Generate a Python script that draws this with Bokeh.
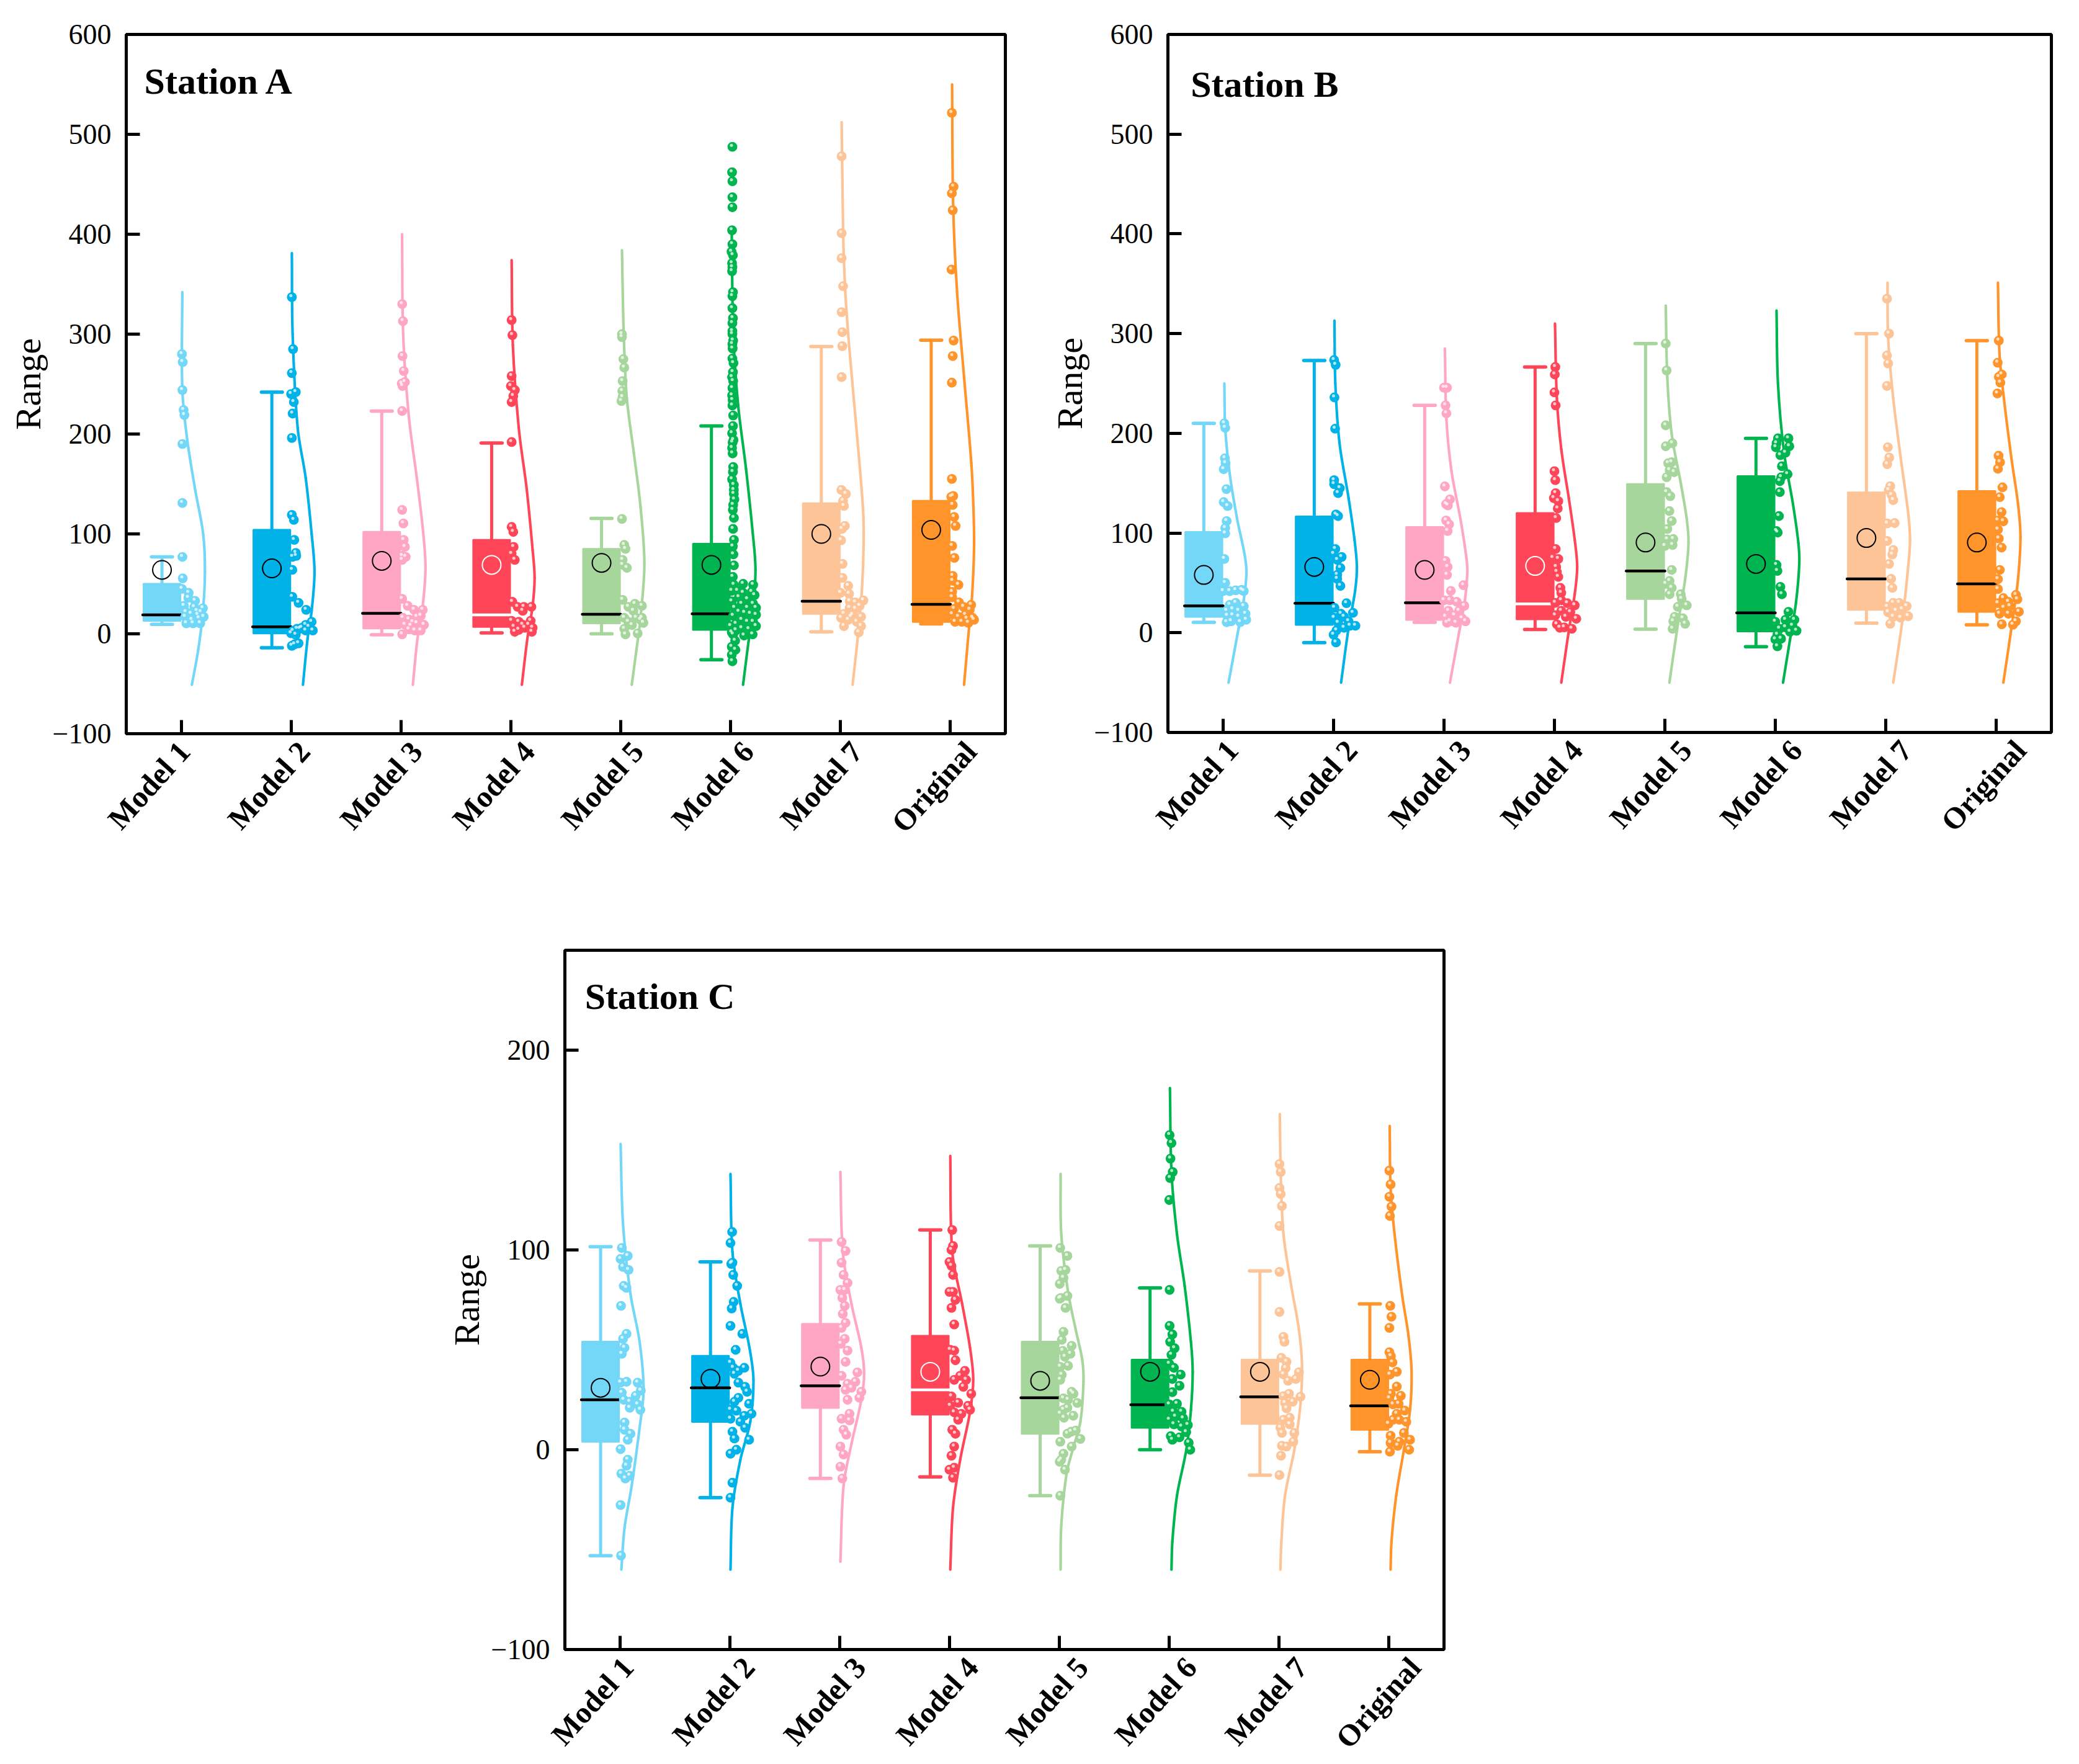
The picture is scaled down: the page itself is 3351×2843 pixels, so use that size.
from math import radians
from bokeh.embed import file_html
from bokeh.resources import INLINE
from bokeh.plotting import figure
from bokeh.layouts import column, row
from bokeh.models import Spacer, FixedTicker, Range1d, LinearAxis
from bokeh.core.properties import value

CATS = ["Model 1", "Model 2", "Model 3", "Model 4", "Model 5", "Model 6", "Model 7", "Original"]
COLORS = ["#73D7F7", "#00B2E8", "#FFA6C4", "#FF4659", "#A6D69C", "#00B54F", "#FDC497", "#FF942B"]
MEDIAN_COLORS = ["black", "black", "black", "white", "black", "black", "black", "black"]

# horizontal placement of the category labels relative to their ticks
A_lab = [.028, .119, .141, .164, .153, .158, .147, .186]
B_lab = [.084, .163, .191, .202, .191, .191, .185, .219]
C_lab = [.073, .175, .186, .209, .209, .198, .203, .237]

# box statistics
A_q3 = [50, 104, 102, 94, 85, 90, 130.6, 133]
A_q1 = [13, 0.5, 5.5, 7, 10.5, 4, 20, 12]
A_med = [19, 7, 20.5, 19, 19.5, 20, 32.6, 29.5]
A_hi = [77, 242, 223, 191, 115.5, 208, 287.6, 294]
A_lo = [9.5, -14, -1, 1, 0, -26, 2, 10]
A_mean = [64, 65.5, 73, 69, 71, 69, 100, 104]

B_q3 = [101, 116.5, 106, 120, 149, 157, 140.7, 142]
B_q1 = [16, 8, 13, 13.6, 34, 1.5, 23, 21]
B_med = [27, 29.6, 30, 29, 62, 20, 54, 49]
B_hi = [210, 273, 228, 266.5, 290, 195, 300, 293]
B_lo = [10.5, -10, 10.5, 3.3, 3.6, -14, 9.7, 8]
B_mean = [58, 66, 63, 67, 90.5, 69, 95, 90.5]

C_q3 = [54, 47, 63, 57, 54, 45, 45, 45]
C_q1 = [4, 14, 21, 17.6, 8, 11, 13, 10]
C_med = [25, 31, 32, 30, 26, 22.5, 26.5, 22]
C_hi = [101.6, 94, 105, 110, 102, 81, 89.5, 73]
C_lo = [-53, -24, -14.4, -13.6, -23, 0, -12.7, -1]
C_mean = [31, 35.5, 41.6, 39, 34.5, 39, 39, 35]

# density outlines: value, width
A1_cy = [342, 245, 195, 145, 100, 62, 23, -16, -51]
A1_cw = [.01, .01, .054, .126, .2, .216, .198, .155, .097]
A2_cy = [381, 300, 206, 156, 100, 62, 23, -5, -51]
A2_cw = [.007, .014, .06, .133, .187, .213, .187, .15, .108]
A3_cy = [400, 300, 217, 156, 106, 67, 28, -5, -51]
A3_cw = [.01, .02, .072, .144, .198, .223, .198, .15, .108]
A4_cy = [374, 289, 206, 145, 84, 56, 28, -5, -51]
A4_cw = [.007, .018, .072, .144, .198, .216, .198, .15, .1]
A5_cy = [384, 300, 235, 181, 127, 70, 16, -15, -51]
A5_cw = [.011, .027, .056, .119, .18, .215, .18, .144, .1]
A6_cy = [400, 300, 229, 165, 102, 64, 19, -6, -51]
A6_cw = [.01, .024, .068, .14, .2, .226, .2, .165, .113]
A7_cy = [512, 400, 343, 286, 200, 124, 89, 45, -2, -51]
A7_cw = [.01, .024, .043, .08, .149, .205, .21, .195, .158, .11]
A8_cy = [550, 428, 343, 257, 171, 124, 86, 38, 7, -51]
A8_cw = [.015, .025, .06, .124, .19, .21, .215, .197, .17, .124]

B1_cy = [250, 205, 159, 114, 78, 60, 33, 5, -50]
B1_cw = [.011, .019, .06, .127, .195, .211, .187, .141, .049]
B2_cy = [313, 250, 190, 135, 93, 66, 42, 5, -50]
B2_cw = [.008, .016, .054, .136, .19, .211, .195, .136, .068]
B3_cy = [285, 214, 162, 114, 75, 60, 33, 0, -50]
B3_cw = [.008, .022, .068, .149, .203, .211, .19, .136, .054]
B4_cy = [310, 235, 184, 135, 93, 66, 39, 2, -50]
B4_cw = [.005, .022, .062, .13, .184, .206, .184, .13, .062]
B5_cy = [328, 256, 199, 150, 114, 90, 54, 8, -50]
B5_cw = [.008, .022, .062, .144, .198, .214, .184, .117, .041]
B6_cy = [323, 250, 181, 129, 90, 69, 30, -7, -50]
B6_cw = [.011, .024, .079, .16, .209, .217, .187, .133, .07]
B7_cy = [351, 295, 235, 175, 120, 93, 66, 11, -50]
B7_cw = [.016, .022, .068, .136, .203, .22, .203, .149, .068]
B8_cy = [351, 280, 235, 175, 129, 96, 54, 15, -50]
B8_cw = [.016, .03, .07, .138, .198, .22, .198, .152, .065]

C1_cy = [153, 113, 78, 54, 30, 11, -18, -39, -60]
C1_cw = [.007, .029, .097, .18, .216, .18, .108, .043, .014]
C2_cy = [138, 99, 73, 51, 35, 14, -5, -29, -60]
C2_cw = [.007, .025, .097, .18, .216, .187, .097, .025, .007]
C3_cy = [139, 99, 73, 51, 38, 25, 3, -18, -56]
C3_cw = [.007, .029, .108, .198, .223, .198, .108, .036, .007]
C4_cy = [147, 99, 73, 51, 35, 19, -5, -29, -60]
C4_cw = [.007, .025, .115, .187, .216, .187, .097, .032, .007]
C5_cy = [138, 108, 79, 60, 45, 34, 14, 0, -12, -38, -60]
C5_cw = [.011, .017, .079, .149, .208, .219, .191, .121, .065, .017, .011]
C6_cy = [181, 139, 108, 82, 54, 39, 20, 0, -23, -46, -60]
C6_cw = [.006, .02, .07, .14, .197, .213, .197, .155, .07, .028, .02]
C7_cy = [168, 139, 108, 82, 60, 42, 23, 0, -23, -46, -60]
C7_cw = [.006, .014, .039, .11, .18, .208, .194, .138, .053, .02, .011]
C8_cy = [162, 131, 108, 77, 57, 39, 20, 0, -23, -46, -60]
C8_cw = [.006, .014, .05, .12, .177, .205, .191, .135, .065, .022, .014]

# individual observations: value, jitter
A1_y = [280, 272, 244, 224, 219, 190, 131, 77, 55.5, 45, 41, 36, 33, 28, 26.7, 25.6, 21.7, 17, 20, 19, 17, 14, 15.5, 10.5, 10.5, 10.5, 22.8, 21.7]
A1_j = [.007, .014, .011, .022, .029, .011, .011, .011, .014, .007, .068, .065, .126, .025, .119, .198, .043, .205, .09, .151, .036, .097, .162, .047, .108, .173, .144, .18]
A2_y = [337, 285, 261, 240, 242, 232, 220.5, 196, 119, 114, 94, 81, 77, 78, 64, 37, 31, 24, 12, 9, 6, 3.3, 5, 3, 3.3, -1, -12, -9.5, -10.5, .5, 5, 7]
A2_j = [.007, .018, .007, 0, .043, .025, .014, .007, .007, .025, .029, .043, .014, .047, .011, .011, .068, .137, .187, .133, .097, .198, .054, .018, .133, .043, .007, .068, .032, 0, .08, .162]
A3_y = [330, 313, 278, 263, 250.5, 252, 248, 223, 124, 110.5, 94, 87, 78, 77, 74, 35, 28, 24, 24, 16, 14.4, 17, 18, 9, 8, 10.5, 9, -.5, 4.4, 3.3, 3.3, 11.7]
A3_j = [.011, .018, .014, .025, .007, .036, .014, .011, .011, .022, .025, .036, .011, .043, .011, .011, .061, .119, .198, .018, .072, .144, .18, .036, .09, .144, .209, .011, .072, .126, .18, .108]
A4_y = [314, 299, 258, 248, 244, 238, 232, 192, 107, 102, 87, 80, 74, 32, 27, 27, 27, 23, 13, 12, 13, 7, 9, 9, 6, 2, 4, 6, 2]
A4_j = [.007, .014, .007, 0, .036, .022, .007, .007, .007, .022, .025, .007, .036, .014, .061, .119, .187, .108, .007, .072, .18, .029, .108, .162, .198, .036, .072, .126, .191]
A5_y = [300, 297, 275, 266.5, 253, 243, 237, 233, 115, 89, 85, 74, 69, 66, 34, 27, 30, 28, 23, 16, 12, 16, 11, 14, 5, 8.7, .4, -.6, 16]
A5_j = [.011, .011, .024, .032, .017, .014, .017, .006, .011, .032, .043, .017, .017, .056, .017, .069, .129, .193, .115, .032, .069, .141, .206, .18, .032, .102, .154, .043, .193]
A6_y = [487.5, 462, 453, 437, 427, 404, 390, 382.5, 379, 371, 367, 363, 342, 338, 326, 316, 311, 303, 300, 293.6, 290, 285.6, 275.6, 271, 262, 257, 253, 246, 238.6, 234, 228.6, 218.6, 208, 200.7, 194, 191.5, 186, 180.6, 167, 162, 154.6, 149, 144, 140, 134.5, 129,
        124, 116, 105, 94, 87.5, 79.5, 68.5, 57, 49,
        50, 49, 43, 41, 42, 43, 36.6, 34.6, 38.7, 32.5, 30, 30, 26, 26, 26, 22, 21, 20, 18, 19, 14, 12, 12, 10, 7.7, 5.6, 7.7, 4.6, 3.5, -1.7, -.6, 1.4,
        -.6, -7, -13, -16, -21, -27.5]
A6_j = [.016, .013, .016, .016, .016, .013, .016, .008, .021, .013, .016, .013, .021, .016, .016, .021, .016, .016, .016, .023, .016, .018, .016, .026, .021, .013, .023, .016, .013, .018, .016, .023, .021, .013, .026, .018, .013, .018, .023, .021, .013, .029, .029, .029, .034, .023,
        .02, .03, .022, .03, .02, .025, .03, .02, .03,
        .114, .205, .062, .114, .192, .01, .075, .153, .218, .01, .101, .205, .036, .153, .231, .075, .127, .179, .023, .231, .101, .153, .205, .049, 0, .101, .231, .166, .049, .122, .2, .01,
        .023, .041, .01, .044, .01, .016]
A7_y = [478, 401, 376, 348, 322, 302, 288, 257, 144, 140, 133, 128, 108, 105, 93.6, 70, 56, 48, 41, 40, 32.5, 33.5, 31.5, 28, 26, 25, 20, 19, 17, 16, 14, 12, 7.7, 7.7, 1.4, 17]
A7_j = [.01, .01, .01, .023, .01, .016, .016, .01, .008, .049, .023, .031, .039, .013, .005, .018, .018, .07, 0, .078, .083, .208, .135, .174, .083, .135, .031, .109, .187, .005, .07, .148, .031, .187, .166, .096]
A8_y = [521.5, 447.6, 441, 424, 364.6, 293.6, 278, 251.4, 155, 138, 137, 129, 117, 108, 88, 76, 58, 53, 49, 42, 36.6, 31.5, 29, 27, 25, 24, 19.5, 17, 19, 16, 12, 12, 11, 14, 15]
A8_j = [.013, .029, .013, .021, .01, .029, .021, .013, .013, .026, .008, .021, .034, .047, .016, .036, .021, .021, .073, .016, .016, .078, .189, .119, .034, .176, .016, .073, .137, .202, .042, .104, .163, .215, .15]

B1_y = [210, 205.5, 175, 170, 164, 144, 131, 127, 112, 105, 99.6, 74, 50, 41.7, 41.7, 42.6, 43, 41.7, 28, 30, 26.6, 22, 23.5, 22, 19, 17, 17.5, 16, 13, 10.6, 11.5, 10.6]
B1_j = [.011, .019, .016, .022, .005, .03, .005, .041, .032, .019, .019, .011, .019, 0, .06, .114, .168, .187, .06, .114, .187, .032, .087, .141, .203, .038, .087, .141, .209, .032, .073, .155]
B2_y = [273.5, 268.6, 236, 204.6, 153, 149, 145, 140, 118.6, 117, 84, 76, 79, 73, 65, 58, 54, 47, 29.6, 25, 20, 19, 15, 16, 11.5, 10, 7, 5, 2.4, -2, -9.7, 7]
B2_j = [.005, .019, .008, .014, .005, .005, .057, .041, .022, .041, .016, .073, 0, .035, .062, .033, .033, .062, .117, .008, .176, .068, .005, .095, .136, .041, .198, .095, .027, 0, .022, .149]
B3_y = [245.7, 245.7, 228, 220, 146.7, 133.7, 129, 127.7, 112.6, 108.7, 102, 72, 66, 58, 47.7, 42, 32.6, 32.6, 31, 27, 22, 22, 16, 17.5, 14.5, 11.5, 11.5, 10, 10]
B3_j = [0, .027, .014, .022, .008, .054, .019, .035, .019, .046, .033, .014, .033, .027, .176, .062, 0, .054, .116, .184, .041, .136, .014, .095, .163, .054, .195, .108, .027]
B4_y = [266.5, 259, 241, 228, 162, 153, 140, 135, 132, 124.7, 115, 84, 74, 75, 66, 61, 56, 45, 40, 32.6, 30, 29.6, 27.5, 22, 20.5, 17.5, 16, 14, 8.5, 5.4, 4, 5]
B4_j = [.008, .003, 0, .011, 0, .008, .011, -.005, .035, .03, .016, .011, .035, -.014, .016, .022, .035, .054, .062, .062, .008, .117, .184, .062, .144, .008, .103, .198, .022, .089, .157, .049]
B5_y = [290, 263, 208, 190, 187, 171, 170, 163, 161, 156, 141, 137, 122, 112, 104, 94, 93.6, 88, 87, 63, 52, 45, 49, 38.6, 38.6, 34, 27.5, 26, 16, 14.5, 11.5, 9, 4]
B5_j = [.008, .016, .008, .068, .008, .062, .03, .043, .084, .016, .016, .049, .041, .062, .022, .076, .022, .07, 0, .062, .043, .062, .008, .043, .144, .152, .198, .117, .089, .163, .076, .184, .07]
B6_y = [195, 195, 190, 187, 186, 180.5, 178, 167, 159, 156, 152, 141, 117, 102, 100.5, 68, 62, 46, 38.6, 21, 13, 11, 13, 4, 7, 2, 5.4, 1, -2, -6, -6.6, -13.6]
B6_j = [.024, .119, .011, .127, .005, .092, .046, .06, .111, .054, .041, .041, .033, .011, .022, .011, .019, .046, .06, .119, .173, 0, .092, .038, .155, .192, .092, .133, .019, .052, 0, .019]
B7_y = [335, 300, 278, 270, 247.5, 186, 175.7, 169, 147, 143, 138, 133, 109.6, 110, 92, 83, 78.5, 69, 54, 45, 30, 30, 26.6, 26, 22, 20.5, 23.5, 16.6, 16, 15, 9]
B7_j = [.011, .03, .011, .022, .011, .019, .032, .014, .041, .027, .054, .068, .014, .081, .014, .068, .06, .03, .049, .06, .068, .122, .19, .014, .095, .022, .149, .203, .068, .136, .041]
B8_y = [293, 270.8, 259, 256.6, 250.8, 240, 177.5, 171, 164.5, 145.8, 136, 121, 112.6, 111.7, 103.5, 94.5, 85.4, 63, 53.7, 43.8, 38, 34.7, 33.5, 31, 29.6, 25, 26.6, 21, 19, 19, 11.5, 8.5, 8]
B8_j = [.024, .014, .051, .024, .038, .011, .022, .035, .016, .057, .033, .049, .016, .065, .016, .024, .049, .033, .016, .016, .179, .065, .192, .111, .016, .07, .124, .206, .03, .111, .179, .051, .152]

C1_y = [101, 97, 95.5, 91.5, 90, 82, 81, 72, 58, 55.5, 51, 48, 33.6, 34, 33.6, 29.6, 28.5, 27, 25, 24, 22.7, 20, 21, 13.6, 10, 8, 5, .3, -5, -8, -12, -14.4, -13, -27.7, -53]
C1_j = [.018, .072, .007, .029, .079, .036, .061, .011, .061, .029, .043, .018, .007, .061, .162, .191, .018, .144, .036, .09, .162, .187, .09, .043, .043, .097, .072, .007, .072, .061, .014, .05, .09, .007, .011]
C2_y = [109, 103.5, 93, 93.6, 87.5, 82, 74, 70.7, 62, 58, 50, 43.5, 41, 41, 39.5, 38, 33.6, 31.5, 29, 26, 24, 23, 20, 19.5, 18, 17, 15.5, 14, 11, 9, 5.6, 5, -2, 0, -16.5, -24]
C2_j = [.022, .007, .014, .025, .032, .068, .036, .018, .007, .115, .054, .007, .032, .133, .079, .043, .079, .14, .158, .079, .043, .176, .007, .061, .198, .133, .007, .097, .14, .025, .043, .176, .007, .061, .025, .007]
C3_y = [104, 99.5, 93.6, 87.5, 83.5, 80, 80, 76, 72, 68, 63.5, 61, 55.5, 53, 49.6, 44, 37, 38.7, 33, 34, 30, 29, 31, 26, 25, 18, 15.5, 14.7, 10, 7.5, 1.6, -2.4, -8.5, -14.4]
C3_j = [.018, .054, .018, .036, .072, .007, .047, .025, .047, .029, .054, .018, .047, .011, .072, .054, .018, .162, .072, .144, .054, .198, .108, .18, .072, .09, .018, .09, .036, .061, .007, .036, .007, .025]
C4_y = [110, 102, 100, 94, 92, 87.5, 79, 79, 75, 71, 62.7, 50, 49.6, 44.8, 39.5, 35, 37, 35, 31.5, 28, 26.7, 23.5, 22, 22, 20, 18.7, 18, 15, 10, 8, 1.6, -3, -10, -9, -14]
C4_j = [.025, .032, .018, 0, .018, .032, 0, .032, .054, .018, .043, .007, .043, .054, .14, .043, .097, .151, .126, .198, .018, .079, .007, .169, .187, .043, .108, .079, .025, .054, .043, .018, 0, .043, .032]
C5_y = [101, 97, 90, 89.5, 86, 83, 76, 77, 75.6, 71, 59, 55, 52, 49.5, 48, 46.5, 42, 41.5, 37.5, 35, 29, 28, 25.7, 25, 23.4, 20, 21, 18, 17, 16, 9.6, 8, 9, 5.4, 4, 1.6, -2, -5, -6, -10, -23]
C5_j = [.008, .073, .056, .017, .037, .003, .014, .073, .003, .056, .037, .022, .112, .031, .101, .051, .079, .008, .022, .008, .112, .129, .037, .079, .163, .037, .073, .008, .127, .042, .149, .073, .107, .191, .008, .112, .037, .017, .003, .051, .008]
C6_y = [157.5, 153.5, 145.7, 139, 136, 125, 80, 62, 57.7, 54, 50.8, 47.5, 43, 41, 37.6, 35.4, 32, 28.8, 23, 22.7, 19, 19, 16.5, 15, 15.7, 12.7, 12.4, 11.6, 8.8, 6.8, 6.2, 5, 3.5, 0]
C6_j = [.003, .02, .011, .031, .008, 0, .003, .003, .028, .008, .048, .02, 0, .042, .104, .028, .093, .028, .07, 0, .037, .112, .056, 0, .126, .042, .169, .112, .154, .014, .093, .028, .177, .191]
C7_y = [143, 139, 131, 128, 122, 112, 89, 69, 56.5, 54, 46, 44, 40.8, 38.8, 37.7, 35.4, 34.5, 28, 26.5, 26.8, 24, 23.4, 20.7, 16, 15, 11, 12.7, 8.4, 8.4, 4, 2, 1.6, -3, -12.7]
C7_j = [.003, .014, .003, .014, .025, .003, .003, .003, .039, .048, .02, .067, .059, .18, .039, .152, .081, .09, .194, .039, .124, .053, .067, .096, .039, .011, .096, .025, .138, .129, .025, .067, .017, .003]
C8_y = [139.7, 132.8, 126.6, 121.7, 117, 72, 66.6, 61, 48.8, 46.8, 43.7, 39, 37.6, 31.6, 28, 27, 25.7, 23, 22.7, 19.6, 18, 15, 15, 14, 13, 8.4, 7, 5, 4, 3.4, 2, 0, -1]
C8_j = [.003, .014, .003, .022, .008, .011, .022, .003, .003, .017, .031, .07, .008, .07, .017, .107, .003, .087, .037, .143, .07, .037, .093, .157, -.006, .135, .014, .191, .093, .014, .079, .183, .008]

G = globals()
FONT = "Liberation Serif"


def draw_outline(p, base, widths, ys, color):
    """Draw the read outline points as one smooth path of cubic Bezier pieces."""
    n = len(ys)
    xs = [base + w for w in widths]
    slope = []
    for i in range(n):
        a, b = max(i - 1, 0), min(i + 1, n - 1)
        slope.append((xs[b] - xs[a]) / (ys[b] - ys[a]))
    x0, y0, x1, y1, cx0, cy0, cx1, cy1 = [], [], [], [], [], [], [], []
    for i in range(n - 1):
        d = (ys[i + 1] - ys[i]) / 3
        x0.append(xs[i]); y0.append(ys[i]); x1.append(xs[i + 1]); y1.append(ys[i + 1])
        cx0.append(xs[i] + slope[i] * d); cy0.append(ys[i] + d)
        cx1.append(xs[i + 1] - slope[i + 1] * d); cy1.append(ys[i + 1] - d)
    p.bezier(x0, y0, x1, y1, cx0, cy0, cx1, cy1, line_color=color, line_width=4.2, line_cap="round")


def panel(key, title, title_x, title_y, ylim, yticks, frame_w, frame_h, left, right, top, bottom):
    p = figure(frame_width=frame_w, frame_height=frame_h, x_range=Range1d(0.5, 8.5), y_range=Range1d(*ylim),
               toolbar_location=None, output_backend="svg", min_border_left=left, min_border_right=right,
               min_border_top=top, min_border_bottom=bottom, background_fill_color="white", border_fill_color="white")
    p.grid.visible = False
    p.outline_line_color = "black"
    p.outline_line_width = 5
    for ax in (p.xaxis[0], p.yaxis[0]):
        ax.axis_line_width = 5
        ax.major_tick_line_width = 5
        ax.major_tick_in = 22
        ax.major_tick_out = 0
        ax.minor_tick_line_color = None
        ax.major_label_text_color = "black"
        ax.major_label_text_font = FONT
    # tick marks on the frame, labels on a second axis so each can sit where the reference has it
    ticks = p.xaxis[0]
    ticks.ticker = FixedTicker(ticks=list(range(1, 9)))
    ticks.major_label_overrides = {i + 1: "" for i in range(8)}
    ticks.major_label_text_font_size = "1px"
    ticks.major_label_standoff = 0
    lab_pos = [round(i + 1 + d, 3) for i, d in enumerate(G[key + "_lab"])]
    labels = LinearAxis(ticker=FixedTicker(ticks=lab_pos),
                        major_label_overrides={pos: c for pos, c in zip(lab_pos, CATS)},
                        axis_line_color=None, major_tick_line_color=None, minor_tick_line_color=None,
                        major_label_orientation=radians(48), major_label_text_font=FONT,
                        major_label_text_font_size="49px", major_label_text_font_style="bold",
                        major_label_text_color="black", major_label_standoff=20,
                        major_tick_in=0, major_tick_out=0)
    p.add_layout(labels, "below")
    p.yaxis.ticker = FixedTicker(ticks=yticks)
    p.yaxis.major_label_overrides = {t: ("\u2212" + str(-t) if t < 0 else str(t)) for t in yticks}
    p.yaxis.major_label_text_font_size = "46px"
    p.yaxis.major_label_standoff = 24
    p.yaxis.axis_label = "Range"
    p.yaxis.axis_label_text_font = FONT
    p.yaxis.axis_label_text_font_style = "normal"
    p.yaxis.axis_label_text_font_size = "58px"
    p.yaxis.axis_label_text_color = "black"
    p.yaxis.axis_label_standoff = 4

    q3, q1 = G[key + "_q3"], G[key + "_q1"]
    med, hi, lo, mean = G[key + "_med"], G[key + "_hi"], G[key + "_lo"], G[key + "_mean"]
    y_px = frame_h / (ylim[1] - ylim[0])
    for i in range(8):
        t = i + 1
        c = COLORS[i]
        cx = t - 0.175
        p.segment([cx, cx], [q3[i], q1[i]], [cx, cx], [hi[i], lo[i]], line_color=c, line_width=5)
        p.segment([cx - 0.095] * 2, [hi[i], lo[i]], [cx + 0.095] * 2, [hi[i], lo[i]], line_color=c, line_width=5.5,
                  line_cap="round")
        p.quad(left=[t - 0.342], right=[t - 0.008], top=[q3[i]], bottom=[q1[i]], fill_color=c, line_color=c,
               line_width=3, line_join="round")
        p.segment([t - 0.35], [med[i]], [t], [med[i]], line_color=MEDIAN_COLORS[i], line_width=4.5, line_cap="round")
        p.scatter([cx], [mean[i]], size=30, marker="circle", fill_color=None, line_color=MEDIAN_COLORS[i], line_width=2)
        n = f"{key}{t}"
        draw_outline(p, t, G[n + "_cw"], G[n + "_cy"], c)
        xs = [t + j for j in G[n + "_j"]]
        ys = G[n + "_y"]
        p.scatter(xs, ys, size=15.8, marker="circle", fill_color=c, line_color=None)
        p.scatter([x - 0.009 for x in xs], [y + 2.5 / y_px for y in ys], size=5, marker="circle",
                  fill_color="white", fill_alpha=0.7, line_color=None)
    p.text([title_x], [title_y], text=[title], text_font=value(FONT), text_font_style="bold", text_font_size="60px",
           text_color="black", text_align="left", text_baseline="alphabetic")
    return p


pa = panel("A", "Station A", 0.664, 553, (-100, 600), [-100, 0, 100, 200, 300, 400, 500, 600], 1417, 1127,
           203, 68, 54, 219)
pb = panel("B", "Station B", 0.706, 550, (-100, 600), [-100, 0, 100, 200, 300, 400, 500, 600], 1424, 1125,
           186, 20, 55, 220)
pc = panel("C", "Station C", 0.682, 227, (-100, 250), [-100, 0, 100, 200], 1417, 1127,
           210, 20, 131, 170)

layout = column(row(pa, pb), row(Spacer(width=700, height=10), pc))
open("out.html", "w").write(file_html(layout, INLINE))
